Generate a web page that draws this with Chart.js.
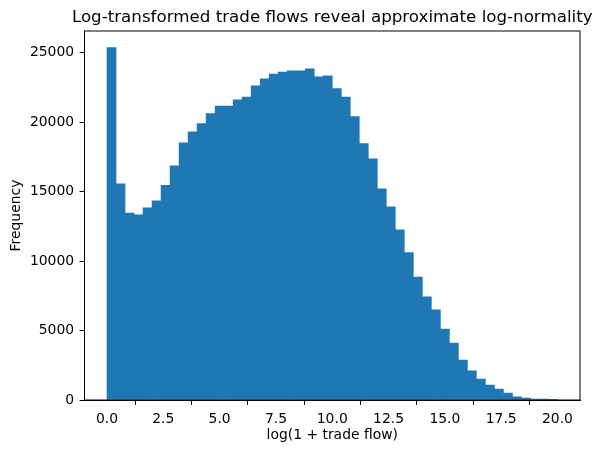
<!DOCTYPE html>
<html>
<head>
<meta charset="utf-8">
<script src="https://cdn.jsdelivr.net/npm/chart.js@4.4.1/dist/chart.umd.min.js"></script>
<style>
    html, body { margin: 0; padding: 0; background: #fff; }
    #wrap { width: 602px; height: 453px; }
</style>
</head>
<body>
<div id="wrap"><canvas id="histChart" width="602" height="453"></canvas></div>
<script>
// Histogram bins: 50 equal bins over [BIN_MIN, BIN_MAX]
const BIN_MIN = 0;
const BIN_MAX = 20.0;
const BIN_COUNT = 50;

// Counts per bin
const COUNTS = [
    25350, 15550, 13450, 13330, 13830, 14330, 15450, 16850, 18500, 19300,
    19880, 20600, 21150, 21150, 21600, 21800, 22600, 23100, 23450, 23600,
    23680, 23680, 23820, 23250, 23320, 22400, 21800, 20400, 18450, 17350,
    15200, 13900, 12250, 10600, 8850, 7420, 6480, 5100, 4100, 2880,
    2090, 1510, 1080, 790, 500, 220, 140, 70, 60, 8
];

// Tick labels
const X_TICKS = [0, 2.5, 5, 7.5, 10, 12.5, 15, 17.5, 20];
const Y_TICKS = [0, 5000, 10000, 15000, 20000, 25000];

const TITLE = 'Log-transformed trade flows reveal approximate log-normality';
const X_LABEL = 'log(1 + trade flow)';
const Y_LABEL = 'Frequency';

// Bin centres for the linear x scale
const binWidth = (BIN_MAX - BIN_MIN) / BIN_COUNT;
const points = COUNTS.map((c, i) => ({ x: BIN_MIN + binWidth * (i + 0.5), y: c }));

const FONT = 'DejaVu Sans';
const TICK_SIZE = 13.9;

// Axes box (top/right spines) and a title centred over the plot area,
// allowed to run wider than the axes like matplotlib's
const framePlugin = {
    id: 'axesFrame',
    afterDatasetsDraw(chart) {
        const { ctx, chartArea: a } = chart;
        ctx.save();
        ctx.strokeStyle = '#000';
        ctx.lineWidth = 1;
        ctx.strokeRect(a.left, a.top, a.right - a.left, a.bottom - a.top);
        ctx.restore();
    },
    afterDraw(chart) {
        const { ctx, chartArea: a } = chart;
        ctx.save();
        ctx.fillStyle = '#000';
        ctx.font = `16.7px "${FONT}"`;
        ctx.textAlign = 'center';
        ctx.textBaseline = 'alphabetic';
        ctx.fillText(TITLE, (a.left + a.right) / 2, 22);
        ctx.restore();
    }
};

new Chart(document.getElementById('histChart'), {
    type: 'bar',
    data: {
        datasets: [{
            data: points,
            backgroundColor: '#1f77b4',
            borderWidth: 0,
            barPercentage: 1.0,
            categoryPercentage: 1.0
        }]
    },
    options: {
        responsive: false,
        animation: false,
        layout: { padding: { left: 0, right: 22, top: 31, bottom: 0 } },
        plugins: {
            legend: { display: false },
            tooltip: { enabled: false },
            title: { display: false }
        },
        scales: {
            x: {
                type: 'linear',
                min: BIN_MIN - 0.05 * (BIN_MAX - BIN_MIN),
                max: BIN_MAX + 0.05 * (BIN_MAX - BIN_MIN),
                offset: false,
                afterBuildTicks: (scale) => { scale.ticks = X_TICKS.map(v => ({ value: v })); },
                afterFit: (scale) => { scale.height = 53; },
                grid: { display: true, drawOnChartArea: false, drawTicks: true, tickLength: 4.9, color: '#000' },
                border: { display: true, color: '#000', width: 1 },
                ticks: {
                    color: '#000',
                    padding: 6,
                    maxRotation: 0,
                    autoSkip: false,
                    font: { family: FONT, size: TICK_SIZE },
                    callback: (v) => Number(v).toFixed(1)
                },
                title: {
                    display: true,
                    text: X_LABEL,
                    color: '#000',
                    font: { family: FONT, size: TICK_SIZE },
                    padding: { top: 9, bottom: 9 }
                }
            },
            y: {
                min: 0,
                max: 26550,
                afterBuildTicks: (scale) => { scale.ticks = Y_TICKS.map(v => ({ value: v })); },
                afterFit: (scale) => { scale.width = 84.5; },
                grid: { display: true, drawOnChartArea: false, drawTicks: true, tickLength: 4.9, color: '#000' },
                border: { display: true, color: '#000', width: 1 },
                ticks: {
                    color: '#000',
                    padding: 5.5,
                    autoSkip: false,
                    font: { family: FONT, size: TICK_SIZE },
                    callback: (v) => String(v)
                },
                title: {
                    display: true,
                    text: Y_LABEL,
                    color: '#000',
                    font: { family: FONT, size: TICK_SIZE },
                    padding: { top: 8, bottom: 8 }
                }
            }
        }
    },
    plugins: [framePlugin]
});
</script>
</body>
</html>
